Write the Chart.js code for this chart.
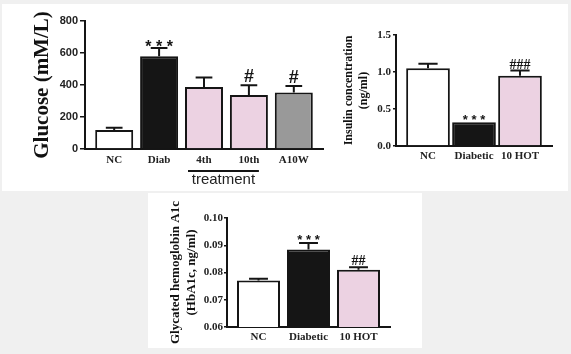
<!DOCTYPE html>
<html>
<head>
<meta charset="utf-8">
<script src="https://cdn.jsdelivr.net/npm/chart.js@4/dist/chart.umd.min.js"></script>
<style>
html, body { margin: 0; padding: 0; background: #f0f0f0; }
body { width: 571px; height: 354px; position: relative; overflow: hidden; }
.panel { position: absolute; background: #fff; }
.box { position: absolute; }
</style>
</head>
<body>
<div class="panel" style="left:2px;top:4px;width:566px;height:187px"></div>
<div class="panel" style="left:148px;top:193px;width:274px;height:155px"></div>
<div class="box" style="left:2px;top:4px;width:328px;height:186px"><canvas id="glucoseChart"></canvas></div>
<div class="box" style="left:332px;top:4px;width:236px;height:186px"><canvas id="insulinChart"></canvas></div>
<div class="box" style="left:150px;top:195px;width:270px;height:151px"><canvas id="hba1cChart"></canvas></div>
<script>
// Glucose panel
var glucoseLabels = ['NC', 'Diab', '4th', '10th', 'A10W'];
var glucoseMean = [118, 580, 388, 337, 353];
var glucoseSem = [15, 52, 59, 62, 40];
var glucoseMarks = ['', '* * *', '', '#', '#'];

// Insulin panel
var insulinLabels = ['NC', 'Diabetic', '10 HOT'];
var insulinMean = [1.05, 0.32, 0.95];
var insulinSem = [0.06, 0, 0.07];
var insulinMarks = ['', '* * *', '###'];

// HbA1c panel
var hba1cLabels = ['NC', 'Diabetic', '10 HOT'];
var hba1cMean = [0.0771, 0.0884, 0.0810];
var hba1cSem = [0.0006, 0.0024, 0.0009];
var hba1cMarks = ['', '* * *', '##'];

var WHITE = '#ffffff', BLACK = '#151515', PINK = '#ecd2e2', GREY = '#999999';
var serif = 'Liberation Serif', sans = 'Liberation Sans';

// draws the SEM whiskers and the significance marks above each bar
var errorBarPlugin = {
    id: 'errorBars',
    afterDatasetsDraw: function(chart, args, opts) {
        var ctx = chart.ctx;
        var bars = chart.getDatasetMeta(0).data;
        var y = chart.scales.y;
        ctx.save();
        ctx.strokeStyle = BLACK;
        ctx.fillStyle = BLACK;
        ctx.lineWidth = 2;
        bars.forEach(function(bar, i) {
            var top = y.getPixelForValue(opts.mean[i] + opts.sem[i]);
            var half = bar.width * 0.22;
            if (opts.sem[i] > 0) {
                ctx.beginPath();
                ctx.moveTo(bar.x, bar.y);
                ctx.lineTo(bar.x, top);
                ctx.moveTo(bar.x - half, top);
                ctx.lineTo(bar.x + half, top);
                ctx.stroke();
            }
            var mark = opts.marks[i];
            if (mark) {
                var star = mark.indexOf('*') >= 0;
                ctx.font = star ? opts.starFont : opts.hashFont;
                ctx.textAlign = 'center';
                ctx.textBaseline = 'alphabetic';
                ctx.fillText(mark, bar.x, top - (star ? opts.starGap : opts.hashGap));
            }
        });
        ctx.restore();
    }
};

// bracket with "treatment" under the 4th and 10th bars
var treatmentPlugin = {
    id: 'treatment',
    afterDraw: function(chart) {
        var bars = chart.getDatasetMeta(0).data;
        var axisY = chart.scales.x.top;
        var x1 = bars[2].x - bars[2].width / 2 + 3;
        var x2 = bars[3].x + bars[3].width / 2 - 9;
        var ctx = chart.ctx;
        ctx.save();
        ctx.strokeStyle = BLACK;
        ctx.lineWidth = 2;
        ctx.beginPath();
        ctx.moveTo(x1, axisY + 22);
        ctx.lineTo(x2, axisY + 22);
        ctx.stroke();
        ctx.fillStyle = '#222';
        ctx.font = '15px ' + sans;
        ctx.textAlign = 'center';
        ctx.textBaseline = 'middle';
        ctx.fillText('treatment', (x1 + x2) / 2, axisY + 31);
        ctx.restore();
    }
};

function makeChart(id, cfg) {
    var ctx = document.getElementById(id).getContext('2d');
    return new Chart(ctx, {
        type: 'bar',
        data: {
            labels: cfg.labels,
            datasets: [{
                data: cfg.mean,
                backgroundColor: cfg.colors,
                borderColor: BLACK,
                borderWidth: 2,
                borderSkipped: 'start',
                barPercentage: cfg.barPct,
                categoryPercentage: 1.0
            }]
        },
        options: {
            responsive: true,
            maintainAspectRatio: false,
            animation: false,
            layout: { padding: { top: cfg.padTop, right: cfg.padRight, left: 0, bottom: 0 } },
            plugins: {
                legend: { display: false },
                tooltip: { enabled: false },
                errorBars: {
                    mean: cfg.mean, sem: cfg.sem, marks: cfg.marks,
                    starFont: cfg.starFont, hashFont: cfg.hashFont,
                    starGap: cfg.starGap, hashGap: cfg.hashGap
                }
            },
            scales: {
                x: {
                    grid: { display: false, drawTicks: false },
                    border: { display: true, color: BLACK, width: 2 },
                    ticks: { color: '#222', font: { family: serif, weight: 'bold', size: 11 }, padding: cfg.xPad },
                    // leave a little room between the axes and the outer bars
                    afterBuildTicks: function(s) { s._startValue -= cfg.edge; s._valueRange += 2 * cfg.edge; },
                    afterFit: function(s) { s.height = cfg.xHeight; }
                },
                y: {
                    min: cfg.min, max: cfg.max,
                    grid: { drawOnChartArea: false, drawTicks: true, tickLength: cfg.tickLen, color: BLACK, lineWidth: 1.5 },
                    border: { display: true, color: BLACK, width: 2 },
                    ticks: {
                        stepSize: cfg.step, color: '#222', padding: cfg.yPad,
                        font: cfg.tickFont,
                        callback: cfg.tickFmt
                    },
                    title: {
                        display: true, text: cfg.title, color: '#111',
                        font: cfg.titleFont,
                        padding: { top: cfg.titlePad, bottom: 0 }
                    },
                    afterFit: function(s) { s.width = cfg.yWidth; }
                }
            }
        },
        plugins: cfg.extra ? [errorBarPlugin, cfg.extra] : [errorBarPlugin]
    });
}

makeChart('glucoseChart', {
    labels: glucoseLabels, mean: glucoseMean, sem: glucoseSem, marks: glucoseMarks,
    colors: [WHITE, BLACK, PINK, PINK, GREY], barPct: 0.846, edge: 0.15,
    min: 0, max: 800, step: 200, tickFmt: function(v) { return v; },
    tickFont: { family: sans, weight: 'bold', size: 11 }, tickLen: 5, yPad: 2,
    title: 'Glucose (mM/L)', titleFont: { family: serif, weight: 'bold', size: 21, lineHeight: 1.1 }, titlePad: 29,
    yWidth: 83, xHeight: 41, xPad: 5, padTop: 17, padRight: 7,
    starFont: 'bold 16px ' + sans, hashFont: 'bold 18px ' + sans, starGap: -4, hashGap: 3,
    extra: treatmentPlugin
});

makeChart('insulinChart', {
    labels: insulinLabels, mean: insulinMean, sem: insulinSem, marks: insulinMarks,
    colors: [WHITE, BLACK, PINK], barPct: 0.95, edge: 0.196,
    min: 0, max: 1.5, step: 0.5, tickFmt: function(v) { return v.toFixed(1); },
    tickFont: { family: serif, weight: 'bold', size: 11 }, tickLen: 3, yPad: 2,
    title: ['Insulin concentration', '(ng/ml)'], titleFont: { family: serif, weight: 'bold', size: 12, lineHeight: 1.25 }, titlePad: 9,
    yWidth: 64, xHeight: 44, xPad: 4, padTop: 31, padRight: 16,
    starFont: 'bold 13px ' + sans, hashFont: 'bold 14px ' + serif, starGap: -2, hashGap: 2
});

makeChart('hba1cChart', {
    labels: hba1cLabels, mean: hba1cMean, sem: hba1cSem, marks: hba1cMarks,
    colors: [WHITE, BLACK, PINK], barPct: 0.86, edge: 0.13,
    min: 0.06, max: 0.10, step: 0.01, tickFmt: function(v) { return v.toFixed(2); },
    tickFont: { family: serif, weight: 'bold', size: 11 }, tickLen: 3, yPad: 1,
    title: ['Glycated hemoglobin A1c', '(HbA1c, ng/ml)'], titleFont: { family: serif, weight: 'bold', size: 13, lineHeight: 1.2 }, titlePad: 18,
    yWidth: 77, xHeight: 19, xPad: 4, padTop: 23, padRight: 30,
    starFont: 'bold 13px ' + sans, hashFont: 'bold 14px ' + serif, starGap: -1, hashGap: 2
});
</script>
</body>
</html>
